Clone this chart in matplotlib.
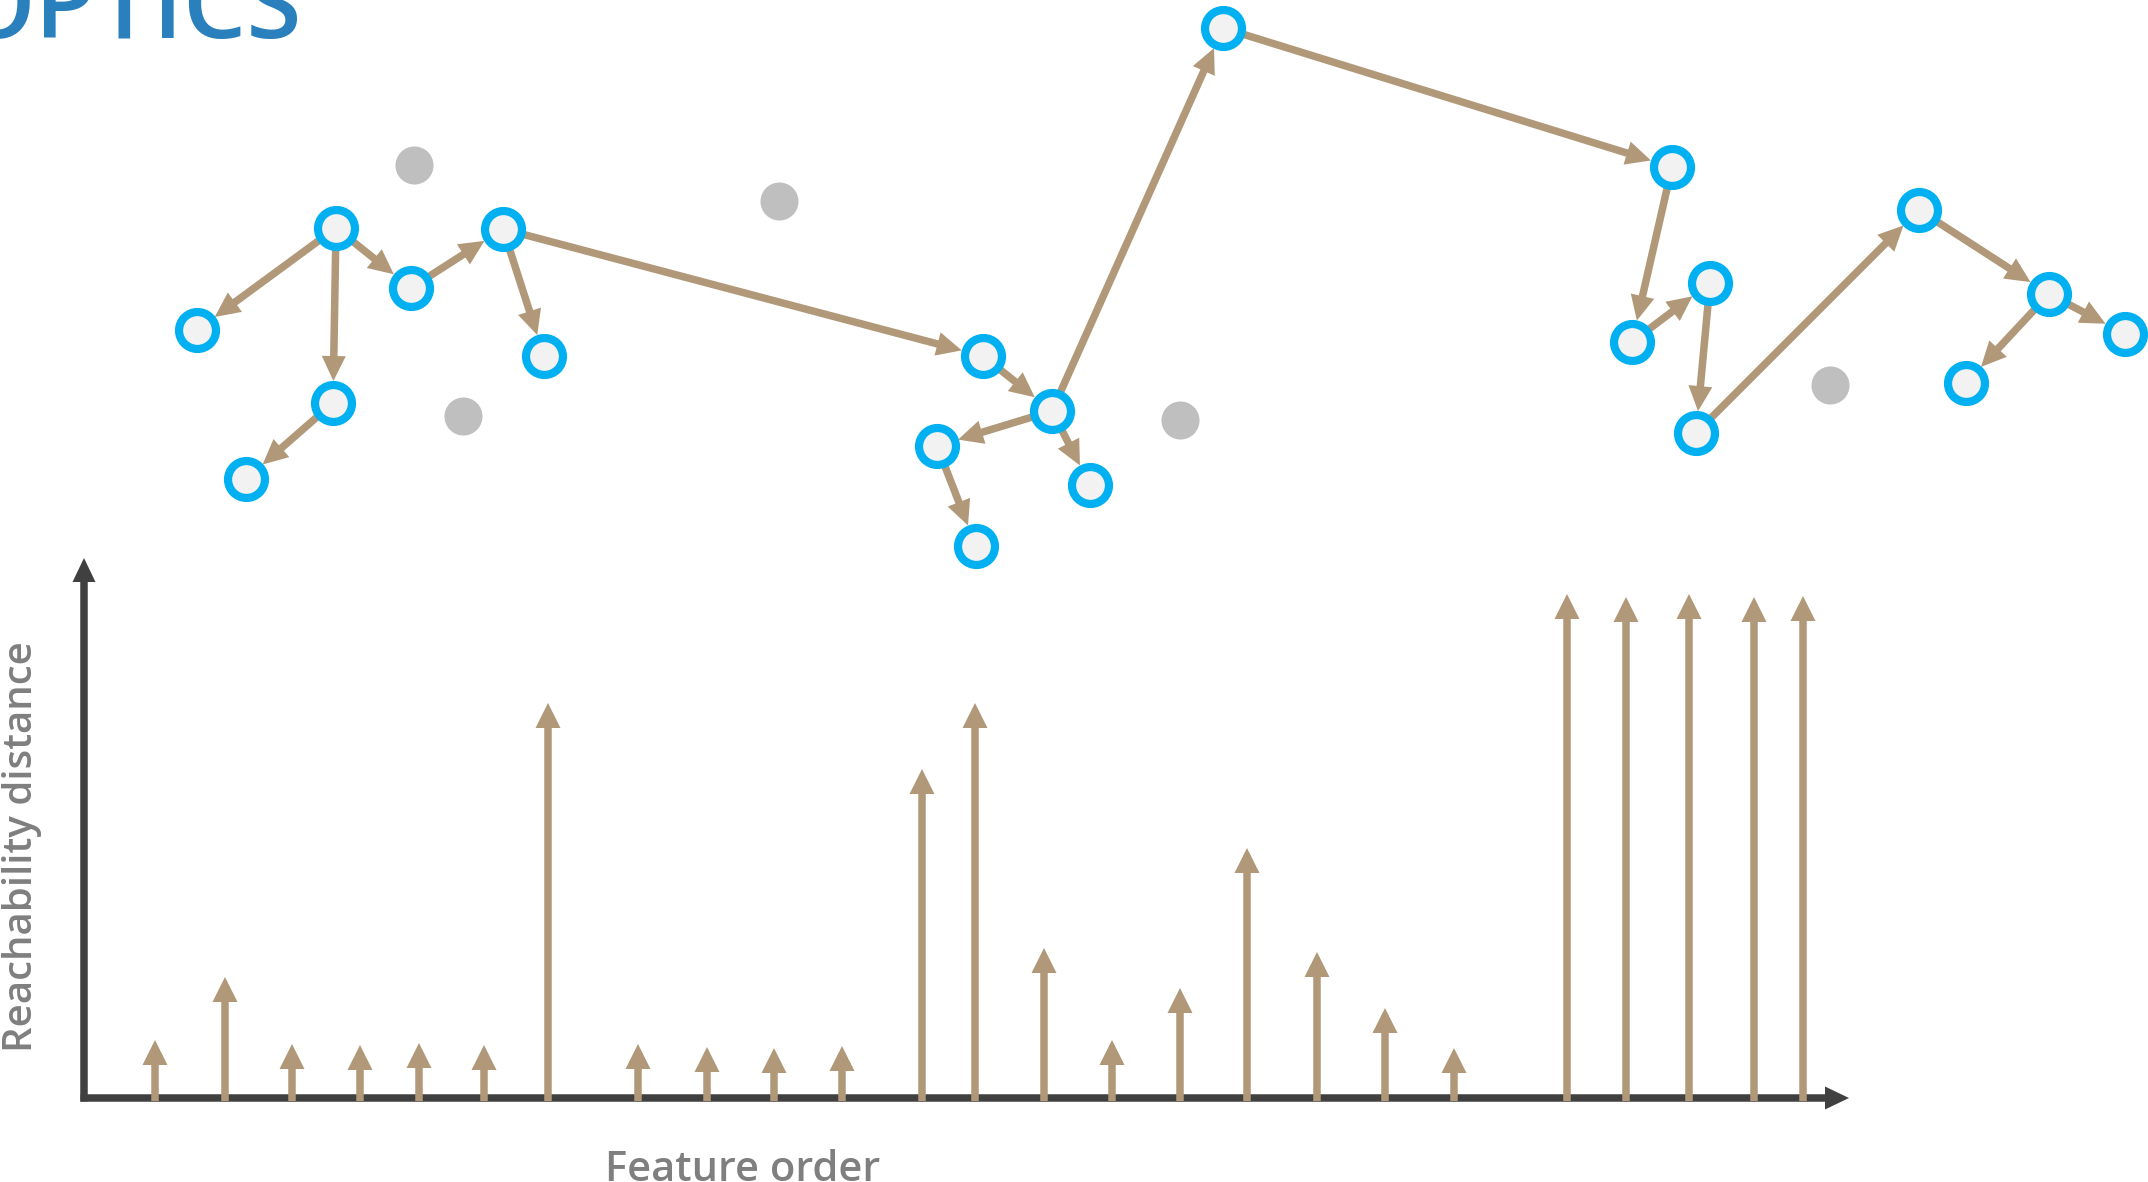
import numpy as np
import matplotlib
matplotlib.use("Agg")
import matplotlib.pyplot as plt

W, H = 2148, 1182
TAN = "#B09878"
RING = "#00B0F0"
DARK = "#404040"
LABEL = "#7F7F7F"

# OPTICS ordered points, canvas px (y down)
core_x = [336, 197, 411, 333, 246, 503, 544, 983, 1052, 937, 976, 1090, 1223,
          1672, 1632, 1710, 1696, 1919, 2049, 2125, 1966]
core_y = [228, 330, 288, 403, 479, 229, 356, 356, 411, 446, 546, 485, 28,
          167, 342, 283, 433, 210, 294, 334, 383]
noise_x = [414, 463, 779, 1180, 1830]
noise_y = [165, 416, 201, 420, 385]
# processing order links (from, to)
links = [(0, 1), (0, 3), (0, 2), (2, 5), (5, 6), (5, 7), (3, 4), (7, 8), (8, 9),
         (8, 11), (9, 10), (8, 12), (12, 13), (13, 14), (14, 15), (15, 16),
         (16, 17), (17, 18), (18, 19), (18, 20)]

# reachability plot
order_x = [155, 225, 292, 360, 419, 484, 548, 638, 707, 774, 842, 922, 975,
           1044, 1112, 1180, 1247, 1317, 1385, 1454, 1567, 1626, 1689, 1754, 1803]
reach = [58, 121, 54, 53, 55, 53, 395, 54, 51, 50, 52, 329, 395,
         150, 58, 110, 250, 146, 90, 50, 504, 501, 504, 501, 502]
base_y = 1098
axis_x0, axis_x1 = 84, 1849
axis_top = 558

fig = plt.figure(figsize=(W / 100, H / 100), dpi=100)
ax = fig.add_axes([0, 0, 1, 1])
ax.set_xlim(0, W)
ax.set_ylim(H, 0)
ax.axis("off")

fonts = ["Open Sans", "DejaVu Sans"]

# links between points
for a, b in links:
    p = np.array([core_x[a], core_y[a]], float)
    q = np.array([core_x[b], core_y[b]], float)
    d = q - p
    u = d / np.hypot(*d)
    s = p + u * 20
    e = q - u * 22
    ax.arrow(s[0], s[1], *(e - s), width=7.5, head_width=24, head_length=25,
             length_includes_head=True, fc=TAN, ec="none", zorder=2)

ax.plot(noise_x, noise_y, "o", ms=27.4, mfc="#BFBFBF", mec="none", zorder=3)
ax.plot(core_x, core_y, "o", ms=26.6, mfc="#F2F2F2", mec=RING, mew=5.9, zorder=3)

# axes of the reachability plot
ax.arrow(axis_x0, base_y + 3.5, 0, axis_top - base_y - 3.5, width=7.5, head_width=23,
         head_length=24, length_includes_head=True, fc=DARK, ec="none", zorder=2)
ax.arrow(axis_x0 - 3.5, base_y, axis_x1 - axis_x0 + 3.5, 0, width=7.5, head_width=23,
         head_length=24, length_includes_head=True, fc=DARK, ec="none", zorder=2)

for x, h in zip(order_x, reach):
    ax.arrow(x, base_y + 3, 0, -(h + 3), width=7.5, head_width=25, head_length=25,
             length_includes_head=True, fc=TAN, ec="none", zorder=3)

ax.text(301, 38, "OPTICS", ha="right", va="baseline", fontsize=72,
        color="#2A7FBD", family=fonts, fontweight="semibold")
ax.text(22, 847, "Reachability distance", rotation=90, ha="center", va="center",
        fontsize=29, color=LABEL, family=fonts, fontweight="semibold")
ax.text(743, 1181, "Feature order", ha="center", va="baseline", fontsize=30,
        color=LABEL, family=fonts, fontweight="semibold")

fig.savefig("out.png", dpi=100)
